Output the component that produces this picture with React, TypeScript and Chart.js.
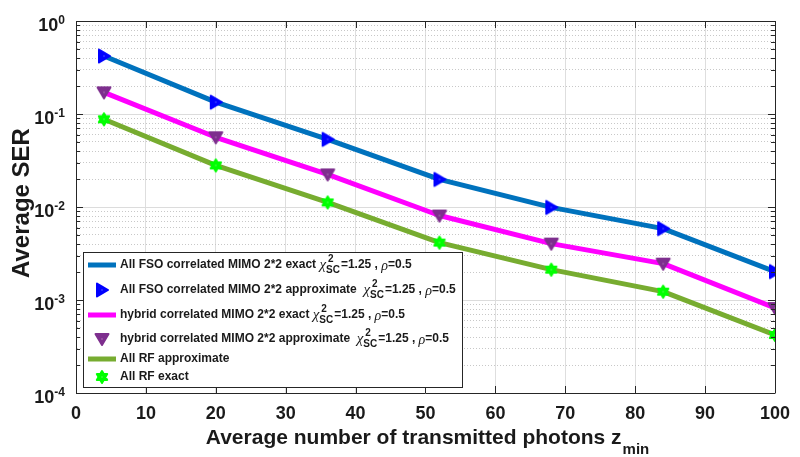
import { useEffect, useRef } from 'react';
import { Chart, registerables } from 'chart.js';

Chart.register(...registerables);

// ---------- data ----------
const photons = [4, 20, 36, 52, 68, 84, 100];
const fsoExact = [0.42, 0.134, 0.0534, 0.0198, 0.0099, 0.00586, 0.00202];
const fsoApprox = [0.42, 0.134, 0.0534, 0.0198, 0.0099, 0.00586, 0.00202];
const hybridExact = [0.171, 0.0562, 0.0224, 0.0081, 0.00404, 0.00246, 0.00082];
const hybridApprox = [0.171, 0.0562, 0.0224, 0.0081, 0.00404, 0.00246, 0.00082];
const rfApprox = [0.0878, 0.028, 0.0112, 0.00414, 0.00212, 0.00123, 0.00042];
const rfExact = [0.0878, 0.028, 0.0112, 0.00414, 0.00212, 0.00123, 0.00042];

const yDecades = [1, 0.1, 0.01, 0.001, 0.0001];
const yDecadeExp = ['0', '-1', '-2', '-3', '-4'];
const xTitle = 'Average number of transmitted photons z';
const xTitleSub = 'min';
const yTitle = 'Average SER';
const legendNames = [
  'All FSO correlated MIMO 2*2 exact',
  'All FSO correlated MIMO 2*2 approximate',
  'hybrid correlated MIMO 2*2 exact',
  'hybrid correlated MIMO 2*2 approximate',
  'All RF approximate',
  'All RF exact',
];
const legendHasParams = [true, true, true, true, false, false];
const paramChi = 'χ';
const paramSup = '2';
const paramSub = 'SC';
const paramMid = '=1.25 , ';
const paramRho = 'ρ';
const paramEnd = '=0.5';

const SANS = "'Liberation Sans', Arial, Helvetica, sans-serif";
const SERIF = "'Liberation Serif', 'Times New Roman', serif";
const TXT = '#1a1a1a';

function makeMarker(kind: string, color: string): HTMLCanvasElement {
  const s = 20;
  const c = document.createElement('canvas');
  c.width = s;
  c.height = s;
  const g = c.getContext('2d')!;
  const cx = s / 2;
  const cy = s / 2;
  g.fillStyle = color;
  g.strokeStyle = color;
  g.lineWidth = 2;
  g.lineJoin = 'round';
  g.beginPath();
  if (kind === 'right') {
    g.moveTo(cx - 5, cy - 6.5);
    g.lineTo(cx + 6, cy);
    g.lineTo(cx - 5, cy + 6.5);
    g.closePath();
  } else if (kind === 'down') {
    g.moveTo(cx - 6.5, cy - 5);
    g.lineTo(cx + 6.5, cy - 5);
    g.lineTo(cx, cy + 6);
    g.closePath();
  } else {
    const r = 6;
    for (let t = 0; t < 2; t++) {
      const off = t === 0 ? -Math.PI / 2 : Math.PI / 2;
      for (let i = 0; i < 3; i++) {
        const a = off + (i * 2 * Math.PI) / 3;
        const px = cx + r * Math.cos(a);
        const py = cy + r * Math.sin(a);
        if (i === 0) g.moveTo(px, py);
        else g.lineTo(px, py);
      }
      g.closePath();
    }
  }
  g.fill();
  g.stroke();
  g.fillStyle = 'rgba(255,255,255,0.6)';
  g.fillRect(cx - 0.5, cy - 0.5, 1, 1);
  return c;
}

type Part = { t: string; f: string; dy?: number };

function drawRich(ctx: CanvasRenderingContext2D, x: number, y: number, parts: (Part | { sup: string; sub: string; f: string })[]) {
  let cx = x;
  ctx.textBaseline = 'middle';
  ctx.textAlign = 'left';
  for (const p of parts) {
    if ('sup' in p) {
      ctx.font = p.f;
      ctx.fillText(p.sup, cx + 2, y - 6);
      ctx.fillText(p.sub, cx, y + 5);
      cx += Math.max(ctx.measureText(p.sup).width + 2, ctx.measureText(p.sub).width) + 1;
    } else {
      ctx.font = p.f;
      ctx.fillText(p.t, cx, y + (p.dy || 0));
      cx += ctx.measureText(p.t).width;
    }
  }
  return cx;
}

export default function App() {
  const ref = useRef<HTMLCanvasElement | null>(null);

  useEffect(() => {
    if (!ref.current) return;
    const mBlue = makeMarker('right', '#0000FF');
    const mPurple = makeMarker('down', '#7E2F8E');
    const mGreen = makeMarker('hex', '#00FF00');

    const pts = (ys: number[]) => photons.map((x, i) => ({ x, y: ys[i] }));

    const yTickVals: number[] = [];
    for (let e = -4; e <= 0; e++) {
      for (let m = 1; m <= 9; m++) {
        const v = m * Math.pow(10, e);
        if (v <= 1.0000001) yTickVals.push(v);
      }
    }
    const isDecade = (v: number) => {
      const l = Math.log10(v);
      return Math.abs(l - Math.round(l)) < 1e-6;
    };

    const framePlugin = {
      id: 'frame',
      afterDraw(chart: any) {
        const ctx: CanvasRenderingContext2D = chart.ctx;
        const a = chart.chartArea;
        const xs = chart.scales.x;
        const ys = chart.scales.y;
        ctx.save();
        // frame
        ctx.strokeStyle = '#262626';
        ctx.lineWidth = 1;
        ctx.beginPath();
        ctx.moveTo(Math.round(a.left) + 0.5, Math.round(a.top) + 0.5);
        ctx.lineTo(Math.round(a.right) + 0.5, Math.round(a.top) + 0.5);
        ctx.lineTo(Math.round(a.right) + 0.5, Math.round(a.bottom) + 0.5);
        ctx.stroke();
        // inward ticks
        ctx.beginPath();
        for (let v = 0; v <= 100; v += 10) {
          const px = Math.round(xs.getPixelForValue(v)) + 0.5;
          ctx.moveTo(px, a.bottom);
          ctx.lineTo(px, a.bottom - 7);
          ctx.moveTo(px, a.top);
          ctx.lineTo(px, a.top + 7);
        }
        for (const v of yTickVals) {
          const py = Math.round(ys.getPixelForValue(v)) + 0.5;
          const len = isDecade(v) ? 7 : 4;
          ctx.moveTo(a.left, py);
          ctx.lineTo(a.left + len, py);
          ctx.moveTo(a.right, py);
          ctx.lineTo(a.right - len, py);
        }
        ctx.stroke();

        // y tick labels with superscripts
        ctx.fillStyle = TXT;
        ctx.textBaseline = 'middle';
        yDecades.forEach((v, i) => {
          const py = ys.getPixelForValue(v);
          ctx.font = `bold 12px ${SANS}`;
          ctx.textAlign = 'right';
          const supW = ctx.measureText(yDecadeExp[i]).width;
          ctx.fillText(yDecadeExp[i], 65, py);
          ctx.font = `bold 18px ${SANS}`;
          ctx.fillText('10', 65 - supW, py + 5);
        });

        // y title
        ctx.save();
        ctx.translate(22, 203);
        ctx.rotate(-Math.PI / 2);
        ctx.textAlign = 'center';
        ctx.textBaseline = 'middle';
        ctx.font = `bold 24px ${SANS}`;
        ctx.fillText(yTitle, 0, 0);
        ctx.restore();

        // x title
        ctx.font = `bold 21px ${SANS}`;
        const w1 = ctx.measureText(xTitle).width;
        ctx.font = `bold 15px ${SANS}`;
        const w2 = ctx.measureText(xTitleSub).width;
        const cxm = 427;
        const x0 = cxm - (w1 + w2) / 2;
        ctx.textAlign = 'left';
        ctx.textBaseline = 'middle';
        ctx.font = `bold 21px ${SANS}`;
        ctx.fillText(xTitle, x0, 438);
        ctx.font = `bold 15px ${SANS}`;
        ctx.fillText(xTitleSub, x0 + w1 + 1, 450);

        // legend
        const lx = 83.5, ly = 252.5, lw = 379, lh = 135;
        ctx.fillStyle = '#ffffff';
        ctx.fillRect(lx, ly, lw, lh);
        ctx.strokeStyle = '#262626';
        ctx.lineWidth = 1;
        ctx.strokeRect(lx, ly, lw, lh);
        const rowY = [265, 290, 315, 339, 359, 377];
        const samples: any[] = [
          { line: '#0072BD' },
          { img: mBlue },
          { line: '#FF00FF' },
          { img: mPurple },
          { line: '#77AC30' },
          { img: mGreen },
        ];
        ctx.save();
        ctx.beginPath();
        ctx.rect(lx, ly, lw, lh);
        ctx.clip();
        legendNames.forEach((name, i) => {
          const y = rowY[i];
          const s = samples[i];
          if (s.line) {
            ctx.strokeStyle = s.line;
            ctx.lineWidth = 5;
            ctx.beginPath();
            ctx.moveTo(88, y);
            ctx.lineTo(116, y);
            ctx.stroke();
          } else {
            ctx.drawImage(s.img, 102 - s.img.width / 2, y - s.img.height / 2);
          }
          ctx.fillStyle = TXT;
          const bold = `bold 12px ${SANS}`;
          const parts: any[] = [{ t: name + (i % 2 === 1 ? '  ' : ' '), f: bold }];
          if (legendHasParams[i]) {
            parts.push({ t: paramChi, f: `italic 15px ${SERIF}`, dy: 0 });
            parts.push({ sup: paramSup, sub: paramSub, f: `bold 10px ${SANS}` });
            parts.push({ t: paramMid, f: bold });
            parts.push({ t: paramRho, f: `italic 14px ${SERIF}`, dy: 1 });
            parts.push({ t: paramEnd, f: bold });
          }
          drawRich(ctx, 120, y, parts);
        });
        ctx.restore();
        ctx.restore();
      },
    };

    const chart = new Chart(ref.current, {
      type: 'line',
      data: {
        datasets: [
          { label: legendNames[0], data: pts(fsoExact), borderColor: '#0072BD', borderWidth: 5, pointRadius: 0, order: 2 },
          { label: legendNames[1], data: pts(fsoApprox), showLine: false, pointStyle: mBlue as any, pointRadius: 8, order: 1 },
          { label: legendNames[2], data: pts(hybridExact), borderColor: '#FF00FF', borderWidth: 5, pointRadius: 0, order: 2 },
          { label: legendNames[3], data: pts(hybridApprox), showLine: false, pointStyle: mPurple as any, pointRadius: 8, order: 1 },
          { label: legendNames[4], data: pts(rfApprox), borderColor: '#77AC30', borderWidth: 5, pointRadius: 0, order: 2 },
          { label: legendNames[5], data: pts(rfExact), showLine: false, pointStyle: mGreen as any, pointRadius: 8, order: 1 },
        ],
      },
      options: {
        animation: false,
        responsive: false,
        layout: { padding: { top: 21, right: 17, left: 0, bottom: 0 } },
        plugins: { legend: { display: false }, tooltip: { enabled: false } },
        elements: { line: { tension: 0, borderCapStyle: 'round', borderJoinStyle: 'round' } },
        scales: {
          x: {
            type: 'linear',
            min: 0,
            max: 100,
            afterFit: (s: any) => {
              s.height = 64;
            },
            ticks: {
              stepSize: 10,
              color: TXT,
              font: { family: SANS, size: 18, weight: 'bold' },
              padding: 10,
              maxRotation: 0,
            },
            grid: {
              drawTicks: false,
              color: (c: any) => (c.tick && (c.tick.value === 0 || c.tick.value === 100) ? 'rgba(0,0,0,0)' : '#dedede'),
              lineWidth: 1,
            },
            border: { color: '#262626', width: 1 },
          },
          y: {
            type: 'logarithmic',
            min: 1e-4,
            max: 1,
            afterFit: (s: any) => {
              s.width = 76;
            },
            afterBuildTicks: (s: any) => {
              s.ticks = yTickVals.map((v) => ({ value: v, major: isDecade(v) }));
            },
            ticks: { display: false, autoSkip: false },
            grid: {
              drawTicks: false,
              color: (c: any) => {
                if (!c.tick) return '#dedede';
                const v = c.tick.value;
                if (v >= 0.99 || v <= 1.01e-4) return 'rgba(0,0,0,0)';
                return isDecade(v) ? '#dcdcdc' : '#c8c8c8';
              },
              lineWidth: 1,
            },
            border: {
              color: '#262626',
              width: 1,
              dash: (c: any) => (c.tick && !isDecade(c.tick.value) ? [1, 2] : []),
            },
          },
        },
      } as any,
      plugins: [framePlugin],
    });
    return () => chart.destroy();
  }, []);

  return (
    <div style={{ position: 'absolute', left: 0, top: 0, width: 800, height: 457, background: '#fff' }}>
      <canvas ref={ref} width={800} height={457} style={{ width: 800, height: 457, display: 'block' }} />
    </div>
  );
}
